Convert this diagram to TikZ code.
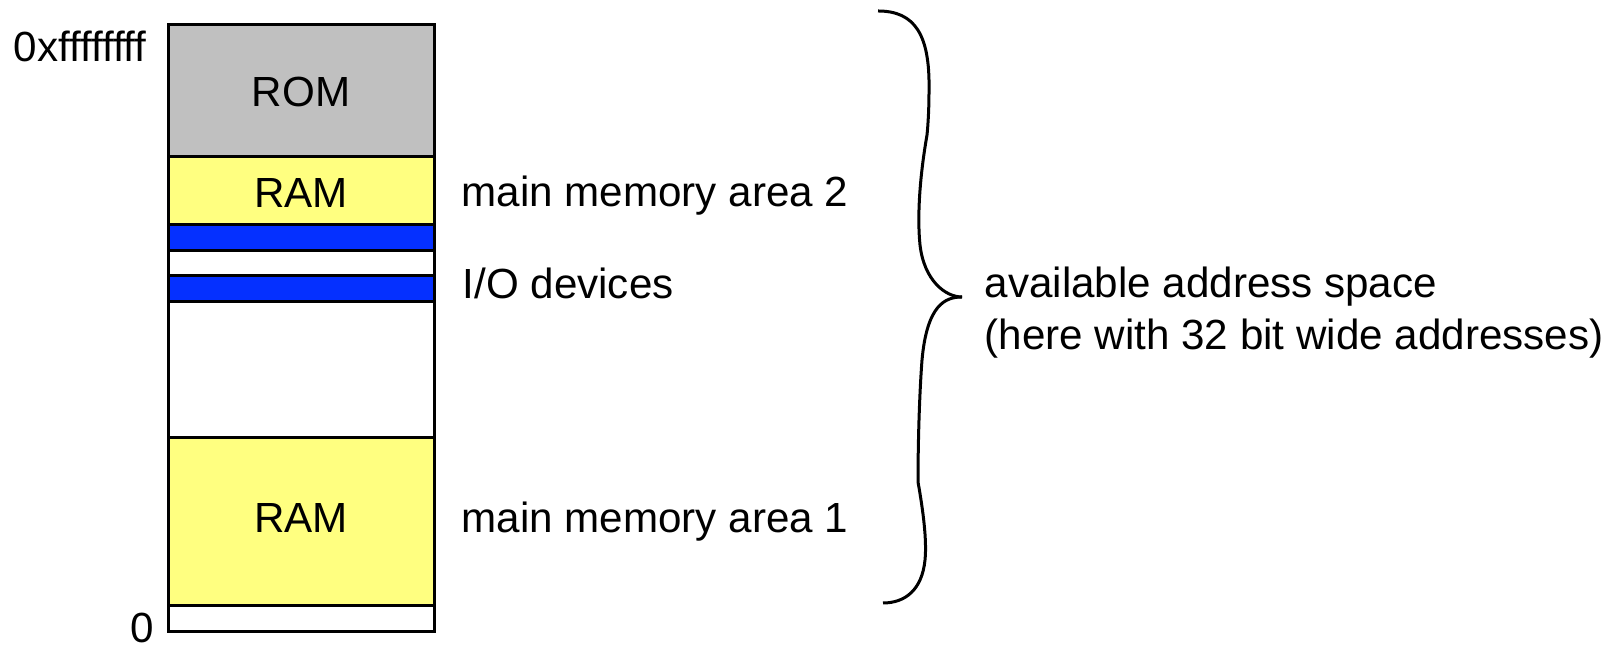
\documentclass[tikz,border=0pt]{standalone}
\usepackage{fontspec}
\setmainfont{Liberation Sans}
\definecolor{romgray}{RGB}{192,192,192}
\definecolor{ramyellow}{RGB}{255,255,128}
\definecolor{iblue}{RGB}{5,48,255}
\begin{document}
\begin{tikzpicture}[x=0.3pt,y=-0.3pt,
  seg/.style={draw=black, line width=0.9pt},
  lbl/.style={font=\fontsize{12.65}{15}\selectfont, inner sep=0pt},
  bracestyle/.style={draw=black, line width=0.9pt}]
\useasboundingbox (0,0) rectangle (1617,649);
% memory column
\path[seg, fill=romgray]   (168,25)  rectangle (434,157);
\path[seg, fill=ramyellow] (168,157) rectangle (434,225);
\path[seg, fill=iblue]     (168,225) rectangle (434,251);
\path[seg, fill=white]     (168,251) rectangle (434,276);
\path[seg, fill=iblue]     (168,276) rectangle (434,302);
\path[seg, fill=white]     (168,302) rectangle (434,438);
\path[seg, fill=ramyellow] (168,438) rectangle (434,606);
\path[seg, fill=white]     (168,606) rectangle (434,632);
% labels inside
\node[lbl, anchor=base] (rom)  at (301,107) {ROM};
\node[lbl, anchor=base] (ram2) at (301,208) {RAM};
\node[lbl, anchor=base] (ram1) at (301,533) {RAM};
% addresses
\node[lbl, anchor=base west] (top) at (13,62) {0xffffffff};
\node[lbl, anchor=base east] (bot) at (155,643) {0};
% descriptions
\node[lbl, anchor=base west] (mma2) at (461,207) {main memory area 2};
\node[lbl, anchor=base west] (io)   at (462,299) {I/O devices};
\node[lbl, anchor=base west] (mma1) at (461,533) {main memory area 1};
\node[lbl, anchor=base west] (avail) at (984,298) {available address space};
\node[lbl, anchor=base west] (here)  at (984,350) {(here with 32 bit wide addresses)};
% brace
\coordinate (btop) at (878,11);
\coordinate (btip) at (962,297);
\coordinate (bbot) at (883,603);
\draw[bracestyle] (btop) .. controls (915,11) and (930,35) .. (929,90)
  .. controls (929,110) and (928,125) .. (927,135)
  .. controls (920,175) and (917,215) .. (920,245)
  .. controls (924,280) and (945,297) .. (btip);
\draw[bracestyle] (btip) .. controls (945,297) and (927,305) .. (922,360)
  .. controls (919,400) and (918,450) .. (918,482)
  .. controls (923,510) and (927,540) .. (925,560)
  .. controls (922,590) and (905,603) .. (bbot);
\end{tikzpicture}
\end{document}
